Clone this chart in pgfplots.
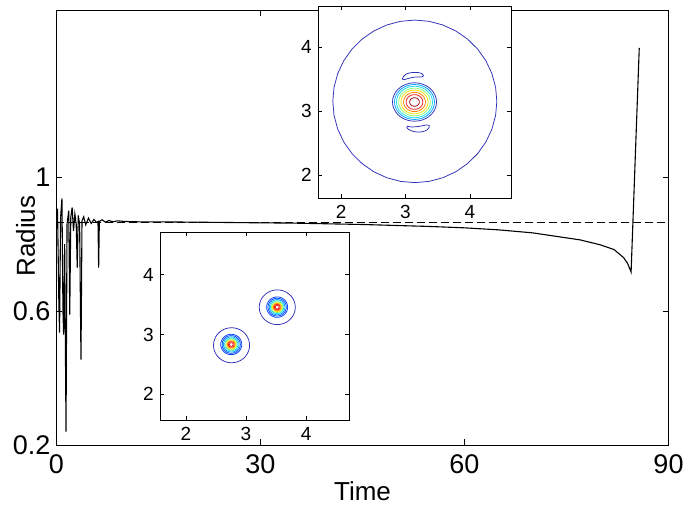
\documentclass[border=0pt]{standalone}
\usepackage{fontspec}
\setmainfont{Liberation Sans}
\usepackage{pgfplots}
\usepackage{pgfplotstable}
\pgfplotsset{compat=1.18}

\definecolor{cA}{rgb}{0.18,0.18,0.72}
\definecolor{cB}{rgb}{0.0,0.25,1.0}
\definecolor{cC}{rgb}{0.0,0.62,1.0}
\definecolor{cD}{rgb}{0.1,0.88,0.92}
\definecolor{cE}{rgb}{0.55,1.0,0.45}
\definecolor{cF}{rgb}{1.0,0.88,0.0}
\definecolor{cG}{rgb}{1.0,0.5,0.0}
\definecolor{cH}{rgb}{0.95,0.12,0.1}
\definecolor{cI}{rgb}{0.6,0.0,0.0}

\pgfplotstableread{
t r
0 0.87
0.15 0.906
0.35 0.62
0.45 0.536
0.6 0.88
0.8 0.937
0.95 0.60
1.05 0.53
1.2 0.80
1.4 0.24
1.55 0.86
1.8 0.90
1.95 0.59
2.1 0.88
2.3 0.91
2.5 0.84
2.7 0.89
2.9 0.86
3.05 0.73
3.2 0.886
3.4 0.86
3.6 0.455
3.75 0.87
4.0 0.882
4.3 0.858
4.7 0.878
5.1 0.862
5.5 0.874
5.9 0.865
6.1 0.868
6.2 0.73
6.3 0.868
6.7 0.873
7.2 0.866
7.7 0.871
8.3 0.867
9 0.870
10 0.868
12 0.867
15 0.867
20 0.866
25 0.865
30 0.864
35 0.863
40 0.861
45 0.859
50 0.856
55 0.853
60 0.849
65 0.843
70 0.834
74 0.822
77 0.813
80 0.798
82 0.784
83.4 0.760
84 0.742
84.5 0.717
85.7 1.387
}\radiusdata

\pgfplotstableread{
x y
1 0
0.9848 0.1736
0.9397 0.3420
0.8660 0.5
0.7660 0.6428
0.6428 0.7660
0.5 0.8660
0.3420 0.9397
0.1736 0.9848
0 1
-0.1736 0.9848
-0.3420 0.9397
-0.5 0.8660
-0.6428 0.7660
-0.7660 0.6428
-0.8660 0.5
-0.9397 0.3420
-0.9848 0.1736
-1 0
-0.9848 -0.1736
-0.9397 -0.3420
-0.8660 -0.5
-0.7660 -0.6428
-0.6428 -0.7660
-0.5 -0.8660
-0.3420 -0.9397
-0.1736 -0.9848
0 -1
0.1736 -0.9848
0.3420 -0.9397
0.5 -0.8660
0.6428 -0.7660
0.7660 -0.6428
0.8660 -0.5
0.9397 -0.3420
0.9848 -0.1736
1 0
}\unitcircle

% crescent shapes (upper inset)
\pgfplotstableread{
x y
2.95 3.50
2.97 3.54
3.02 3.58
3.10 3.60
3.20 3.60
3.26 3.58
3.28 3.55
3.24 3.53
3.15 3.53
3.05 3.51
2.98 3.49
2.95 3.50
}\crestop
\pgfplotstableread{
x y
3.03 2.76
3.10 2.75
3.22 2.76
3.32 2.78
3.37 2.77
3.36 2.73
3.31 2.69
3.22 2.67
3.12 2.68
3.05 2.71
3.02 2.74
3.03 2.76
}\cresbot

% ring: color, cx, cy, rx, ry
\newcommand{\ring}[5]{\addplot[#1, line width=0.75pt] table[x expr={#2+#4*\thisrow{x}}, y expr={#3+#5*\thisrow{y}}]{\unitcircle};}

\pgfplotsset{
  insetstyle/.style={
    scale only axis,
    anchor=south west,
    axis background/.style={fill=white},
    axis line style={line width=0.8pt, black},
    xtick={2,3,4}, ytick={2,3,4},
    major tick length=4pt,
    every tick/.style={black, line width=0.5pt},
    tick label style={font=\fontsize{19}{19}\selectfont, inner sep=0pt},
    /pgf/number format/assume math mode=true,
    xticklabel style={yshift=-7pt},
    yticklabel style={xshift=-6pt},
    clip=true,
  },
}

\begin{document}
\begin{tikzpicture}
\path[use as bounding box] (-56.5pt,-63pt) rectangle (627.5pt,445pt);
\begin{axis}[
  scale only axis,
  at={(0pt,0pt)}, anchor=south west,
  width=612pt, height=435pt,
  xmin=0, xmax=90, ymin=0.2, ymax=1.5,
  xtick={0,30,60,90}, ytick={0.2,0.6,1},
  axis line style={line width=0.9pt, black},
  major tick length=6pt,
  every tick/.style={black, line width=0.6pt},
  tick label style={font=\fontsize{27}{27}\selectfont, inner sep=0pt},
  /pgf/number format/assume math mode=true,
  xticklabel style={yshift=-9pt},
  yticklabel style={xshift=-6pt},
  xlabel={Time}, ylabel={Radius},
  every axis x label/.style={at={([yshift=-55pt]axis description cs:0.5,0)}, anchor=base, font=\fontsize{26}{26}\selectfont},
  every axis y label/.style={at={([xshift=-21.5pt]axis description cs:0,0.48)}, anchor=base, rotate=90, font=\fontsize{26}{26}\selectfont},
]
\addplot[black, dash pattern=on 8pt off 4pt, line width=0.8pt] coordinates {(0,0.866) (90,0.866)};
\addplot[black, line width=1.1pt] table[x=t, y=r]{\radiusdata};
\end{axis}

% upper inset
\begin{axis}[insetstyle, at={(261.5pt,247pt)}, width=193pt, height=192pt,
  xmin=1.64, xmax=4.64, ymin=1.64, ymax=4.64]
\ring{cA}{3.145}{3.15}{1.275}{1.27}
\addplot[cA, line width=0.75pt, smooth] table{\crestop};
\addplot[cA, line width=0.75pt, smooth] table{\cresbot};
\ring{cA}{3.14}{3.14}{0.342}{0.30}
\ring{cC}{3.14}{3.14}{0.31}{0.273}
\ring{cD}{3.14}{3.14}{0.28}{0.246}
\ring{cE}{3.14}{3.14}{0.245}{0.216}
\ring{cF}{3.14}{3.14}{0.21}{0.185}
\ring{cG}{3.14}{3.14}{0.17}{0.15}
\ring{cH}{3.14}{3.14}{0.13}{0.115}
\ring{cI}{3.14}{3.14}{0.075}{0.066}
\end{axis}

% lower inset
\begin{axis}[insetstyle, at={(103.5pt,25pt)}, width=189pt, height=188pt,
  xmin=1.5708, xmax=4.7124, ymin=1.5708, ymax=4.7124]
\ring{cA}{2.76}{2.82}{0.30}{0.293}
\ring{cB}{2.755}{2.833}{0.175}{0.17}
\ring{cB}{2.755}{2.833}{0.152}{0.148}
\ring{cC}{2.755}{2.833}{0.13}{0.127}
\ring{cD}{2.755}{2.833}{0.11}{0.107}
\ring{cE}{2.755}{2.833}{0.093}{0.09}
\ring{cF}{2.755}{2.833}{0.077}{0.075}
\ring{cG}{2.755}{2.833}{0.062}{0.06}
\ring{cH}{2.755}{2.833}{0.046}{0.045}
\ring{cH}{2.755}{2.833}{0.03}{0.03}
\ring{cA}{3.52}{3.455}{0.30}{0.29}
\ring{cB}{3.518}{3.457}{0.175}{0.17}
\ring{cB}{3.518}{3.457}{0.152}{0.148}
\ring{cC}{3.518}{3.457}{0.13}{0.127}
\ring{cD}{3.518}{3.457}{0.11}{0.107}
\ring{cE}{3.518}{3.457}{0.093}{0.09}
\ring{cF}{3.518}{3.457}{0.077}{0.075}
\ring{cG}{3.518}{3.457}{0.062}{0.06}
\ring{cH}{3.518}{3.457}{0.046}{0.045}
\ring{cH}{3.518}{3.457}{0.03}{0.03}
\end{axis}
\end{tikzpicture}
\end{document}
